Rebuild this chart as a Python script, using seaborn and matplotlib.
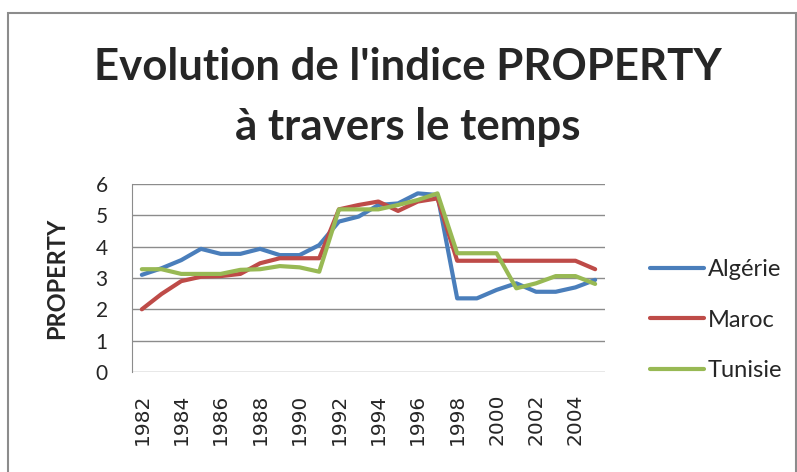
import seaborn as sns
import pandas as pd
import numpy as np
import matplotlib.pyplot as plt
from matplotlib.patches import Rectangle

# Data
years = list(range(1982, 2006))
algerie = [3.10, 3.31, 3.57, 3.93, 3.77, 3.77, 3.93, 3.73, 3.73, 4.05, 4.80, 4.96,
           5.33, 5.38, 5.70, 5.65, 2.35, 2.35, 2.62, 2.83, 2.56, 2.56, 2.70, 2.94]
maroc = [2.00, 2.49, 2.90, 3.04, 3.06, 3.13, 3.47, 3.63, 3.63, 3.63, 5.19, 5.33,
         5.44, 5.14, 5.44, 5.54, 3.55, 3.55, 3.55, 3.55, 3.55, 3.55, 3.55, 3.28]
tunisie = [3.28, 3.28, 3.13, 3.13, 3.13, 3.26, 3.28, 3.38, 3.34, 3.20, 5.19, 5.19,
           5.19, 5.33, 5.49, 5.70, 3.79, 3.79, 3.79, 2.67, 2.83, 3.06, 3.06, 2.81]
countries = ['Algérie', 'Maroc', 'Tunisie']
colors = ['#4A7EBB', '#BE4B48', '#98B954']

df = pd.DataFrame({
    'year': years * 3,
    'value': algerie + maroc + tunisie,
    'pays': np.repeat(countries, len(years)),
})

sns.set_style('white')
plt.rcParams['font.family'] = ['Lato', 'DejaVu Sans']

fig = plt.figure(figsize=(7.97, 4.72), dpi=100)
ax = fig.add_axes([0.1656, 0.2119, 0.5935, 0.3983])

sns.lineplot(data=df, x='year', y='value', hue='pays', hue_order=countries,
             palette=colors, linewidth=3, ax=ax, legend=False)

ax.set_xlim(1981.5, 2005.5)
ax.set_ylim(0, 6)
ax.set_yticks(range(0, 7))
ax.set_xticks(range(1982, 2005, 2))
ax.set_xticklabels([str(y) for y in range(1982, 2005, 2)], rotation=90,
                   fontsize=14.5, family='DejaVu Sans')
ax.tick_params(axis='y', labelsize=15, pad=14)
ax.tick_params(axis='x', pad=12)
ax.yaxis.grid(True, color='#8c8c8c', linewidth=1)
for s in ['top', 'right', 'bottom']:
    ax.spines[s].set_visible(False)
ax.spines['left'].set_color('#8c8c8c')
ax.set_xlabel('')
ax.set_ylabel('PROPERTY', fontsize=17, fontweight='bold', labelpad=20)

# legend
handles = [plt.Line2D([], [], color=c, linewidth=3) for c in colors]
fig.legend(handles, countries, loc='center left', bbox_to_anchor=(0.789, 0.322),
           bbox_transform=fig.transFigure, frameon=False, fontsize=17,
           handlelength=2.3, handletextpad=0.15, labelspacing=1.25)

fig.text(0.512, 0.858, "Evolution de l'indice PROPERTY", ha='center', va='center',
         fontsize=31.5, fontweight='bold')
fig.text(0.512, 0.73, "à travers le temps", ha='center', va='center',
         fontsize=31.5, fontweight='bold')

# outer chart frame
fig.patches.append(Rectangle((8 / 797, -0.05), 788 / 797, 1 - 13 / 472 + 0.05,
                             transform=fig.transFigure, fill=False,
                             edgecolor='#8c8c8c', linewidth=1.5))

fig.savefig('out.png', dpi=100)
